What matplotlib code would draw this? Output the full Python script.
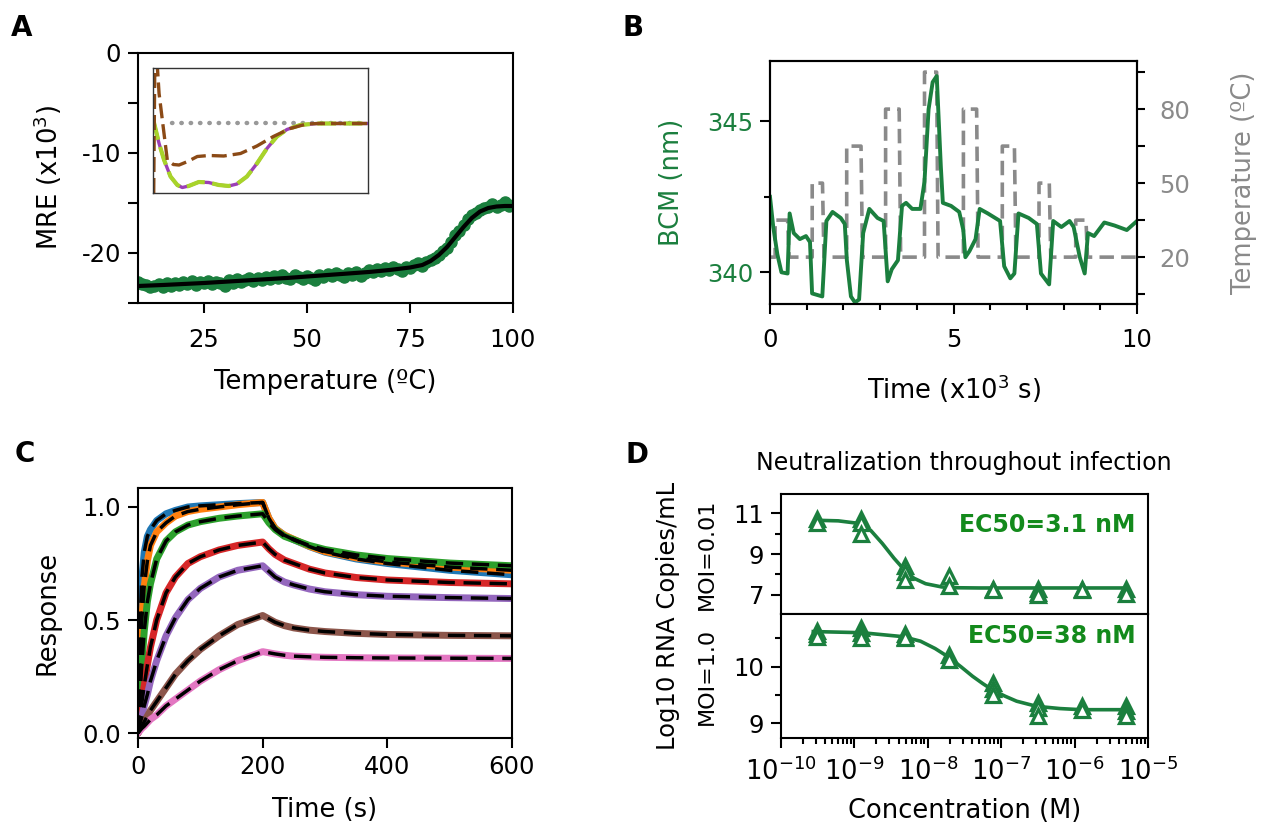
import matplotlib
matplotlib.use('Agg')
import matplotlib.pyplot as plt
from matplotlib.ticker import FixedLocator, FixedFormatter, LogLocator, NullFormatter

plt.rcParams['font.family'] = ['DejaVu Sans']
plt.rcParams['axes.linewidth'] = 1.5

# ---------------- Panel A data ----------------
a_temp = list(range(9, 101))
a_mre = [-22.9, -23.1, -23.2, -23.4, -23.3, -23.1, -23.4, -23.0, -23.3, -23.0,
         -23.2, -22.9, -23.1, -22.8, -23.2, -22.9, -23.0, -22.8, -23.1, -22.9,
         -23.0, -23.3, -22.7, -23.0, -22.6, -22.9, -22.7, -22.5, -22.8, -22.5,
         -22.7, -22.4, -22.6, -22.3, -22.5, -22.2, -22.5, -22.6, -22.2, -22.4,
         -22.6, -22.3, -22.5, -22.7, -22.2, -22.4, -22.1, -22.3, -22.0, -22.2,
         -22.4, -22.0, -22.2, -21.9, -22.3, -22.0, -21.7, -21.9, -21.6, -21.8,
         -21.5, -21.7, -21.4, -21.6, -21.8, -21.4, -21.5, -21.2, -21.0, -21.3,
         -20.9, -20.7, -20.5, -20.2, -19.8, -19.5, -18.9, -18.2, -17.8, -17.2,
         -16.6, -16.2, -16.0, -15.7, -15.5, -15.4, -15.1, -15.4, -15.2, -14.9,
         -15.3, -15.2]
a_fit_temp = [9, 15, 25, 35, 45, 55, 65, 70, 75, 78, 80, 82, 84, 86, 88, 90, 92, 94, 96, 98, 100]
a_fit_mre = [-23.3, -23.2, -23.0, -22.75, -22.5, -22.2, -21.9, -21.7, -21.45, -21.2, -20.8,
             -20.2, -19.4, -18.4, -17.4, -16.5, -15.85, -15.5, -15.35, -15.3, -15.3]
a_yticks = [-25, -20, -15, -10, -5, 0]
a_ylabels = ['', '-20', '', '-10', '', '0']
a_xticks = [25, 50, 75, 100]

# inset (CD spectra)
ins_wl_brown = [200.0, 200.3, 201.0, 201.5, 203.8, 205.5, 207.1, 209.5, 212.2, 215.5, 219.6,
                224.3, 228.9, 233.5, 238.2, 242.8, 246.5, 260.0]
ins_mre_brown = [-14.0, 11.5, 11.5, 5.9, -7.4, -8.3, -8.4, -7.7, -6.7, -6.5, -6.6,
                 -6.1, -4.6, -2.7, -1.1, -0.2, -0.1, -0.1]
ins_wl_green = [200.0, 201.5, 202.9, 204.7, 206.6, 208.0, 209.8, 212.6, 215.4, 218.2, 221.0,
                223.3, 226.1, 228.9, 231.7, 234.5, 237.3, 241.0, 245.6, 260.0]
ins_mre_green = [0.3, -4.1, -7.4, -10.7, -12.4, -12.9, -12.6, -11.8, -11.9, -12.4, -12.6,
                 -12.2, -10.7, -8.1, -5.1, -2.7, -1.3, -0.4, -0.1, -0.1]
ins_ref_wl = [205.2, 260.0]
ins_ref_mre = [0.0, 0.0]

# ---------------- Panel B data ----------------
b_time = [0, 0.089, 0.2, 0.312, 0.479, 0.535, 0.646, 0.813, 0.98, 1.09, 1.147, 1.425, 1.537,
          1.704, 1.927, 2.038, 2.094, 2.205, 2.316, 2.428, 2.539, 2.706, 2.929, 3.096, 3.207,
          3.318, 3.486, 3.597, 3.708, 3.875, 4.098, 4.209, 4.321, 4.432, 4.543, 4.655, 4.71,
          4.933, 5.156, 5.267, 5.323, 5.434, 5.601, 5.713, 5.935, 6.269, 6.381, 6.548, 6.659,
          6.771, 7.049, 7.272, 7.383, 7.606, 7.717, 7.94, 8.163, 8.274, 8.441, 8.575, 8.664,
          8.831, 9.109, 9.388, 9.722, 10.0]
b_bcm = [342.5, 341.5, 340.6, 340.0, 339.96, 341.95, 341.3, 341.1, 341.2, 341.0, 339.3, 339.2,
         341.7, 342.0, 341.8, 341.6, 340.4, 339.2, 339.0, 339.1, 341.3, 342.1, 341.8, 341.7,
         339.7, 340.1, 340.4, 342.2, 342.3, 342.1, 342.1, 343.0, 345.4, 346.3, 346.5, 343.5,
         342.3, 342.2, 342.0, 341.4, 340.5, 340.7, 341.1, 342.1, 341.95, 341.7, 340.2, 339.8,
         339.96, 341.95, 341.8, 341.6, 339.96, 339.6, 341.7, 341.5, 341.7, 341.5, 340.5,
         339.96, 341.3, 341.2, 341.65, 341.55, 341.4, 341.7]
b_temp_time = [0, 0.14, 0.14, 0.48, 0.52, 1.15, 1.15, 1.43, 1.47, 2.09, 2.09, 2.48, 2.52, 3.15,
               3.15, 3.52, 3.56, 4.21, 4.21, 4.54, 4.58, 5.27, 5.27, 5.63, 5.67, 6.33, 6.33,
               6.66, 6.70, 7.33, 7.33, 7.61, 7.65, 8.33, 8.33, 8.61, 8.65, 10.0]
b_temp = [20, 20, 35, 35, 20, 20, 50, 50, 20, 20, 65, 65, 20, 20, 80, 80, 20, 20, 95, 95, 20,
          20, 80, 80, 20, 20, 65, 65, 20, 20, 50, 50, 20, 20, 35, 35, 20, 20]

# ---------------- Panel C data ----------------
c_time = [0, 3, 6, 10, 15, 20, 30, 45, 60, 80, 100, 130, 160, 200, 210, 220, 235, 250, 275,
          300, 350, 400, 500, 600]
c_blue = [0, 0.45, 0.68, 0.80, 0.87, 0.90, 0.94, 0.97, 0.985, 1.0, 1.005, 1.01, 1.015, 1.02,
          0.95, 0.905, 0.875, 0.855, 0.825, 0.80, 0.77, 0.75, 0.72, 0.70]
c_orange = [0, 0.30, 0.50, 0.65, 0.76, 0.83, 0.89, 0.93, 0.96, 0.98, 0.99, 1.0, 1.01, 1.02,
            0.95, 0.905, 0.875, 0.857, 0.826, 0.803, 0.775, 0.757, 0.734, 0.72]
c_green = [0, 0.15, 0.30, 0.45, 0.58, 0.66, 0.77, 0.85, 0.89, 0.92, 0.935, 0.95, 0.96, 0.97,
           0.93, 0.90, 0.87, 0.855, 0.83, 0.812, 0.788, 0.772, 0.752, 0.74]
c_red = [0, 0.06, 0.13, 0.21, 0.30, 0.38, 0.50, 0.62, 0.69, 0.75, 0.78, 0.81, 0.83, 0.845,
         0.815, 0.79, 0.765, 0.75, 0.725, 0.708, 0.688, 0.677, 0.666, 0.66]
c_purple = [0, 0.04, 0.07, 0.12, 0.17, 0.23, 0.32, 0.43, 0.51, 0.59, 0.64, 0.69, 0.72, 0.74,
            0.715, 0.69, 0.668, 0.655, 0.637, 0.625, 0.612, 0.605, 0.599, 0.595]
c_brown = [0, 0.015, 0.03, 0.05, 0.075, 0.10, 0.14, 0.20, 0.26, 0.32, 0.37, 0.43, 0.48, 0.52,
           0.505, 0.49, 0.475, 0.465, 0.455, 0.449, 0.441, 0.436, 0.432, 0.43]
c_pink = [0, 0.01, 0.02, 0.03, 0.045, 0.06, 0.08, 0.12, 0.15, 0.19, 0.23, 0.28, 0.32, 0.36,
          0.355, 0.35, 0.344, 0.34, 0.337, 0.335, 0.333, 0.332, 0.331, 0.33]
c_series = [('tab:blue', c_blue), ('tab:orange', c_orange), ('tab:green', c_green),
            ('tab:red', c_red), ('tab:purple', c_purple), ('tab:brown', c_brown),
            ('tab:pink', c_pink)]

# ---------------- Panel D data ----------------
d_conc = [3.05e-10, 1.22e-9, 4.88e-9, 1.95e-8, 7.81e-8, 3.125e-7, 1.25e-6, 5e-6]
d_up_rep = [[10.7, 10.5], [10.7, 10.5, 10.0], [8.4, 8.1, 7.7], [7.9, 7.45], [7.3, 7.25],
            [7.3, 7.1, 7.0], [7.3, 7.25], [7.3, 7.05]]
d_lo_rep = [[10.63, 10.58, 10.52], [10.69, 10.6, 10.5], [10.57, 10.52, 10.5], [10.2, 10.12],
            [9.72, 9.6, 9.5], [9.35, 9.27, 9.13], [9.3, 9.23], [9.3, 9.22, 9.13]]
d_up_fit_logc = [-9.54, -9.22, -8.93, -8.78, -8.62, -8.46, -8.32, -8.19, -8.03, -7.81, -7.59,
                 -7.3, -5.31]
d_up_fit = [10.66, 10.63, 10.50, 10.17, 9.52, 8.79, 8.22, 7.81, 7.54, 7.38, 7.34, 7.33, 7.33]
d_lo_fit_logc = [-9.56, -8.9, -8.34, -8.1, -7.9, -7.73, -7.55, -7.39, -7.25, -7.12, -6.95,
                 -6.79, -6.52, -6.2, -5.91, -5.29]
d_lo_fit = [10.62, 10.6, 10.53, 10.45, 10.32, 10.18, 10.0, 9.83, 9.7, 9.59, 9.48, 9.39, 9.30,
            9.26, 9.24, 9.24]

# ---------------- figure ----------------
W, H = 1263, 824
fig = plt.figure(figsize=(W / 100, H / 100), dpi=100)


def box(l, t, r, b):
    return [l / W, 1 - b / H, (r - l) / W, (b - t) / H]


TICK = 17.5
LAB = 18.5
GREEN = '#1b7f3e'
GRAY = '#8a8a8a'


def style(ax):
    ax.tick_params(which='major', direction='out', length=7, width=1.5, labelsize=TICK, pad=5)
    ax.tick_params(which='minor', direction='out', length=4.5, width=1.5)


# ---- A ----
axA = fig.add_axes(box(138, 53, 513, 303))
axA.plot(a_temp, a_mre, 'o', color=GREEN, ms=8, mec=GREEN, zorder=2)
axA.plot(a_fit_temp, a_fit_mre, '-', color='black', lw=3, zorder=3)
axA.set_xlim(9, 100)
axA.set_ylim(-25, 0)
axA.yaxis.set_major_locator(FixedLocator(a_yticks))
axA.yaxis.set_major_formatter(FixedFormatter(a_ylabels))
axA.xaxis.set_major_locator(FixedLocator(a_xticks))
style(axA)
axA.tick_params(axis='x', pad=11)
axA.set_xlabel('Temperature (ºC)', fontsize=LAB)
axA.set_ylabel('MRE (x10$^3$)', fontsize=LAB)
axA.yaxis.set_label_coords(-0.197, 0.5)
axA.xaxis.set_label_coords(0.5, -0.265)

axI = fig.add_axes(box(153, 68, 368, 193))
axI.plot(ins_ref_wl, ins_ref_mre, linestyle=(0, (0.1, 2.0)), dash_capstyle='round',
         color='#999999', lw=3.2)
axI.plot(ins_wl_green, ins_mre_green, '-', color='#9b3fb5', lw=2.4)
axI.plot(ins_wl_green, ins_mre_green, '--', color='#a8d42a', lw=3.0, dashes=(4.5, 1.8))
axI.plot(ins_wl_brown, ins_mre_brown, '--', color='#8b4a16', lw=2.4, dashes=(4.5, 1.8))
axI.set_xlim(199.8, 260)
axI.set_ylim(-14, 11)
axI.set_xticks([])
axI.set_yticks([])
for s in axI.spines.values():
    s.set_linewidth(1.0)
    s.set_color('#333333')

# ---- B ----
axB = fig.add_axes(box(770, 61, 1137, 304))
axB2 = axB.twinx()
axB2.plot(b_temp_time, b_temp, '--', color=GRAY, lw=2.6, dashes=(4, 2))
axB.plot(b_time, b_bcm, '-', color=GREEN, lw=2.8)
axB.set_zorder(axB2.get_zorder() + 1)
axB.patch.set_visible(False)
axB.set_xlim(0, 10)
axB.set_ylim(338.95, 347.0)
axB2.set_ylim(1, 99.5)
axB.xaxis.set_major_locator(FixedLocator([0, 5, 10]))
axB.xaxis.set_minor_locator(FixedLocator([1, 2, 3, 4, 6, 7, 8, 9]))
axB.yaxis.set_major_locator(FixedLocator([340, 345]))
axB.yaxis.set_minor_locator(FixedLocator([342.5]))
axB2.yaxis.set_major_locator(FixedLocator([5, 20, 35, 50, 65, 80, 95]))
axB2.yaxis.set_major_formatter(FixedFormatter(['', '20', '', '50', '', '80', '']))
style(axB)
style(axB2)
axB.tick_params(axis='x', pad=10)
axB.tick_params(axis='y', labelcolor=GREEN)
axB2.tick_params(axis='y', labelcolor=GRAY, length=6, pad=10)
axB.set_xlabel('Time (x10$^3$ s)', fontsize=LAB)
axB.xaxis.set_label_coords(0.5, -0.28)
axB.set_ylabel('BCM (nm)', fontsize=LAB, color=GREEN)
axB.yaxis.set_label_coords(-0.232, 0.5)
axB2.set_ylabel('Temperature (ºC)', fontsize=LAB, color=GRAY)
axB2.yaxis.set_label_coords(1.256, 0.5)

# ---- C ----
axC = fig.add_axes(box(138, 488, 512, 738))
for col, vals in c_series:
    axC.plot(c_time, vals, '-', color=col, lw=5, solid_capstyle='round')
for col, vals in c_series:
    axC.plot(c_time, vals, '--', color='black', lw=2.5, dashes=(5, 2.5))
axC.set_xlim(0, 600)
axC.set_ylim(-0.022, 1.084)
axC.xaxis.set_major_locator(FixedLocator([0, 200, 400, 600]))
axC.yaxis.set_major_locator(FixedLocator([0.0, 0.5, 1.0]))
axC.yaxis.set_major_formatter(FixedFormatter(['0.0', '0.5', '1.0']))
style(axC)
axC.set_xlabel('Time (s)', fontsize=LAB)
axC.xaxis.set_label_coords(0.5, -0.235)
axC.set_ylabel('Response', fontsize=LAB)
axC.yaxis.set_label_coords(-0.206, 0.5)

# ---- D ----
axD1 = fig.add_axes(box(781, 494, 1148, 614))
axD2 = fig.add_axes(box(781, 614, 1148, 738))
for ax, reps, fitx, fity in [(axD1, d_up_rep, d_up_fit_logc, d_up_fit),
                             (axD2, d_lo_rep, d_lo_fit_logc, d_lo_fit)]:
    ax.plot([10 ** v for v in fitx], fity, '-', color=GREEN, lw=2.6, zorder=2)
    xs, ys = [], []
    for c, r in zip(d_conc, reps):
        xs += [c] * len(r)
        ys += r
    ax.plot(xs, ys, '^', ms=9.5, mfc='white', mec=GREEN, mew=2.3, ls='none', zorder=3)
    ax.set_xscale('log')
    ax.set_xlim(1e-10, 1e-5)
    style(ax)
    ax.tick_params(which='major', length=7)
    ax.tick_params(which='minor', length=4)

axD1.set_ylim(6.05, 11.95)
axD1.yaxis.set_major_locator(FixedLocator([7, 9, 11]))
axD1.yaxis.set_minor_locator(FixedLocator([8, 10]))
axD1.tick_params(axis='x', which='both', bottom=False, labelbottom=False)
axD2.set_ylim(8.74, 10.93)
axD2.yaxis.set_major_locator(FixedLocator([9, 10]))
axD2.yaxis.set_minor_locator(FixedLocator([9.5, 10.5]))
axD2.xaxis.set_major_locator(LogLocator(base=10, numticks=10))
axD2.xaxis.set_minor_locator(LogLocator(base=10, subs=[2, 3, 4, 5, 6, 7, 8, 9], numticks=10))
axD2.xaxis.set_minor_formatter(NullFormatter())
axD2.tick_params(axis='x', labelsize=18.5, pad=7)
axD1.set_ylabel('MOI=0.01', fontsize=16)
axD1.yaxis.set_label_coords(-0.174, 0.5)
axD2.set_ylabel('MOI=1.0', fontsize=16)
axD2.yaxis.set_label_coords(-0.174, 0.5)
axD2.set_xlabel('Concentration (M)', fontsize=LAB)
axD2.xaxis.set_label_coords(0.5, -0.484)
axD1.text(0.965, 0.74, 'EC50=3.1 nM', transform=axD1.transAxes, ha='right', va='center',
          fontsize=17, fontweight='bold', color='#138a1c')
axD2.text(0.965, 0.82, 'EC50=38 nM', transform=axD2.transAxes, ha='right', va='center',
          fontsize=17, fontweight='bold', color='#138a1c')
fig.text(964 / W, 1 - 463 / H, 'Neutralization throughout infection', ha='center',
         va='center', fontsize=17)
fig.text(668 / W, 1 - 616 / H, 'Log10 RNA Copies/mL', ha='center', va='center',
         rotation=90, fontsize=17.5)

# panel letters
for lab, x, y in [('A', 22, 28), ('B', 633, 28), ('C', 25, 454), ('D', 637, 455)]:
    fig.text(x / W, 1 - y / H, lab, ha='center', va='center', fontsize=20, fontweight='bold')

fig.savefig('out.png', dpi=100)
